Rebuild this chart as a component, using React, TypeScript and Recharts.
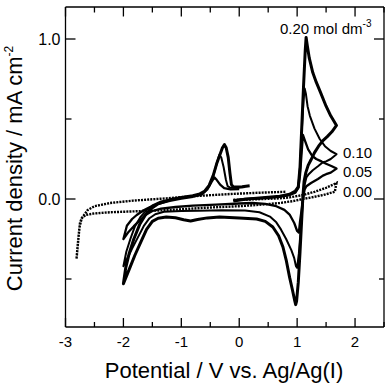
import React from 'react';
import { LineChart, Line, XAxis, YAxis } from 'recharts';

// Axis ticks
const xTicks = [-3, -2.5, -2, -1.5, -1, -0.5, 0, 0.5, 1, 1.5, 2, 2.5];
const xLabelTicks = [-3, -2, -1, 0, 1, 2];
const yTicks = [-0.5, 0, 0.5, 1.0];
const yLabelTicks = [0, 1.0];

// Concentration labels (mol dm^-3)
const concLabels = ['0.20', '0.10', '0.05', '0.00'];

// Cyclic voltammograms: [potential / V, current density / mA cm^-2], in scan order
const cv020: [number, number][] = [
  [-0.10, -0.012], [0.10, -0.002], [0.40, 0.008], [0.70, 0.018], [0.87, 0.03], [0.97, 0.05],
  [1.02, 0.075], [1.05, 0.2], [1.08, 0.45], [1.11, 0.7], [1.14, 0.93], [1.155, 1.01],
  [1.175, 0.96], [1.21, 0.88], [1.27, 0.79], [1.33, 0.73], [1.40, 0.67], [1.50, 0.58],
  [1.58, 0.52], [1.68, 0.46],
  [1.60, 0.42], [1.52, 0.39], [1.445, 0.365], [1.37, 0.33], [1.30, 0.29], [1.24, 0.245],
  [1.19, 0.21], [1.15, 0.165], [1.12, 0.11], [1.10, 0.02], [1.08, -0.12], [1.05, -0.33],
  [1.02, -0.52], [0.99, -0.64], [0.975, -0.66], [0.955, -0.63], [0.92, -0.57], [0.87, -0.49],
  [0.81, -0.38], [0.755, -0.3], [0.68, -0.23], [0.58, -0.175], [0.45, -0.14], [0.30, -0.125],
  [0.0, -0.118], [-0.34, -0.112], [-0.55, -0.118], [-0.72, -0.128], [-0.84, -0.137],
  [-0.96, -0.13], [-1.10, -0.117], [-1.26, -0.113], [-1.40, -0.12], [-1.50, -0.14],
  [-1.60, -0.19], [-1.70, -0.27], [-1.80, -0.35], [-1.90, -0.44], [-2.00, -0.53],
  [-1.96, -0.43], [-1.90, -0.34], [-1.82, -0.25], [-1.72, -0.16], [-1.62, -0.10],
  [-1.52, -0.06], [-1.40, -0.03], [-1.20, -0.005], [-1.00, 0.01], [-0.80, 0.02],
  [-0.68, 0.032], [-0.60, 0.048], [-0.52, 0.085], [-0.45, 0.146], [-0.39, 0.22],
  [-0.34, 0.27], [-0.29, 0.32], [-0.255, 0.34], [-0.225, 0.32], [-0.19, 0.26],
  [-0.16, 0.16], [-0.135, 0.09], [-0.10, 0.075], [0.05, 0.077], [0.18, 0.083],
];

const cv010: [number, number][] = [
  [-0.10, -0.01], [0.10, -0.001], [0.40, 0.007], [0.70, 0.016], [0.87, 0.028], [0.97, 0.045],
  [1.02, 0.08], [1.05, 0.2], [1.08, 0.42], [1.11, 0.62], [1.13, 0.69], [1.15, 0.66],
  [1.18, 0.58], [1.22, 0.52], [1.30, 0.44], [1.39, 0.375], [1.48, 0.33], [1.58, 0.30],
  [1.68, 0.28],
  [1.58, 0.25], [1.50, 0.235], [1.445, 0.23], [1.36, 0.205], [1.27, 0.18], [1.20, 0.155],
  [1.16, 0.135], [1.13, 0.09], [1.11, 0.03], [1.09, -0.06], [1.06, -0.2], [1.03, -0.34],
  [1.00, -0.43], [0.98, -0.42], [0.95, -0.37], [0.90, -0.32], [0.81, -0.25], [0.72, -0.19],
  [0.64, -0.146], [0.53, -0.11], [0.35, -0.083], [0.10, -0.072], [-0.30, -0.07],
  [-0.70, -0.073], [-1.00, -0.075], [-1.30, -0.08], [-1.45, -0.095], [-1.55, -0.12],
  [-1.65, -0.17], [-1.75, -0.24], [-1.85, -0.31], [-1.93, -0.37], [-2.00, -0.42],
  [-1.95, -0.33], [-1.88, -0.25], [-1.80, -0.17], [-1.70, -0.11], [-1.60, -0.07],
  [-1.50, -0.04], [-1.35, -0.015], [-1.15, 0.0], [-0.95, 0.012], [-0.75, 0.022],
  [-0.62, 0.04], [-0.52, 0.08], [-0.45, 0.14], [-0.39, 0.22], [-0.345, 0.275],
  [-0.31, 0.26], [-0.27, 0.2], [-0.23, 0.12], [-0.20, 0.08], [-0.15, 0.07], [0.0, 0.072],
  [0.10, 0.075],
];

const cv005: [number, number][] = [
  [-0.10, -0.008], [0.10, 0.0], [0.40, 0.006], [0.70, 0.014], [0.87, 0.025], [0.97, 0.04],
  [1.02, 0.07], [1.05, 0.15], [1.08, 0.30], [1.10, 0.40], [1.13, 0.37], [1.19, 0.31],
  [1.26, 0.27], [1.33, 0.25], [1.42, 0.235], [1.50, 0.22], [1.60, 0.205], [1.68, 0.19],
  [1.58, 0.165], [1.50, 0.155], [1.445, 0.146], [1.36, 0.125], [1.24, 0.10], [1.16, 0.08],
  [1.13, 0.06], [1.11, 0.02], [1.08, -0.06], [1.05, -0.14], [1.03, -0.21], [1.00, -0.20],
  [0.95, -0.15], [0.87, -0.097], [0.78, -0.068], [0.64, -0.045], [0.45, -0.03],
  [0.23, -0.025], [0.0, -0.028], [-0.40, -0.035], [-0.80, -0.042], [-1.10, -0.05],
  [-1.35, -0.06], [-1.50, -0.075], [-1.62, -0.1], [-1.72, -0.135], [-1.82, -0.17],
  [-1.92, -0.21], [-2.00, -0.25],
  [-1.94, -0.167], [-1.85, -0.125], [-1.77, -0.1], [-1.65, -0.07], [-1.54, -0.05],
  [-1.40, -0.03], [-1.20, -0.012], [-1.00, 0.002], [-0.80, 0.014], [-0.65, 0.028],
  [-0.55, 0.06], [-0.48, 0.105], [-0.43, 0.135], [-0.39, 0.12], [-0.33, 0.09],
  [-0.26, 0.068], [-0.15, 0.06], [0.0, 0.062],
];

const cv000: [number, number][] = [
  [-0.10, -0.005], [0.30, -0.002], [0.70, 0.004], [0.87, 0.01], [1.10, 0.025], [1.30, 0.045],
  [1.50, 0.07], [1.65, 0.094], [1.68, 0.1],
  [1.65, 0.045], [1.45, 0.025], [1.25, 0.01], [1.10, 0.0], [0.95, -0.012], [0.70, -0.025],
  [0.40, -0.035], [0.0, -0.045], [-0.60, -0.055], [-1.26, -0.07], [-1.66, -0.075],
  [-2.23, -0.083], [-2.50, -0.09], [-2.65, -0.1], [-2.72, -0.12], [-2.75, -0.15],
  [-2.77, -0.22], [-2.79, -0.3], [-2.81, -0.375],
  [-2.79, -0.29], [-2.76, -0.18], [-2.72, -0.12], [-2.62, -0.07], [-2.50, -0.045],
  [-2.23, -0.025], [-1.83, -0.01], [-1.26, 0.004], [-0.68, 0.02], [-0.11, 0.032],
  [0.40, 0.04], [0.80, 0.045],
];

const toPoints = (pairs: [number, number][]) => pairs.map(([v, i]) => ({ v, i }));

const FONT = '"Liberation Sans", Arial, Helvetica, sans-serif';
const INK = '#000';

// Inward-facing ticks on all four sides of the frame; labels only on major ticks
function BottomTick(props: any) {
  const { x, y, payload } = props;
  const major = xLabelTicks.includes(payload.value);
  return (
    <g>
      <line x1={x} y1={y} x2={x} y2={y - (major ? 9 : 5)} stroke={INK} strokeWidth={1.3} />
      {major && (
        <text x={x} y={y + 19.5} textAnchor="middle" fontSize={15} fontFamily={FONT} fill={INK}>
          {String(payload.value)}
        </text>
      )}
    </g>
  );
}

function TopTick(props: any) {
  const { x, y, payload } = props;
  const major = xLabelTicks.includes(payload.value);
  return <line x1={x} y1={y} x2={x} y2={y + (major ? 9.5 : 5.5)} stroke={INK} strokeWidth={1.3} />;
}

function LeftTick(props: any) {
  const { x, y, payload } = props;
  const major = yLabelTicks.includes(payload.value);
  return (
    <g>
      <line x1={x} y1={y} x2={x + (major ? 10 : 6)} y2={y} stroke={INK} strokeWidth={1.3} />
      {major && (
        <text x={x - 5} y={y + 5.8} textAnchor="end" fontSize={16} fontFamily={FONT} fill={INK}>
          {Number(payload.value).toFixed(1)}
        </text>
      )}
    </g>
  );
}

function RightTick(props: any) {
  const { x, y, payload } = props;
  const major = yLabelTicks.includes(payload.value);
  return <line x1={x} y1={y} x2={x - (major ? 10 : 5)} y2={y} stroke={INK} strokeWidth={1.3} />;
}

const axisLine = { stroke: INK, strokeWidth: 1.3 };

export default function App() {
  return (
    <div style={{ position: 'absolute', left: 0, top: 0, width: 388, height: 385, background: '#fff' }}>
      <LineChart width={388} height={385} margin={{ top: 6, right: 3, left: 0, bottom: 0 }}>
        <XAxis
          xAxisId={0}
          type="number"
          dataKey="v"
          domain={[-3, 2.5]}
          ticks={xTicks}
          interval={0}
          allowDataOverflow
          height={58}
          tickSize={0}
          tickMargin={0}
          tickLine={false}
          axisLine={axisLine}
          tick={<BottomTick />}
        />
        <XAxis
          xAxisId="top"
          orientation="top"
          type="number"
          dataKey="v"
          domain={[-3, 2.5]}
          ticks={xTicks}
          interval={0}
          allowDataOverflow
          height={1}
          tickSize={0}
          tickMargin={0}
          tickLine={false}
          axisLine={axisLine}
          tick={<TopTick />}
        />
        <YAxis
          yAxisId={0}
          type="number"
          dataKey="i"
          domain={[-0.8, 1.2]}
          ticks={yTicks}
          interval={0}
          allowDataOverflow
          width={65.5}
          tickSize={0}
          tickMargin={0}
          tickLine={false}
          axisLine={axisLine}
          tick={<LeftTick />}
        />
        <YAxis
          yAxisId="right"
          orientation="right"
          type="number"
          dataKey="i"
          domain={[-0.8, 1.2]}
          ticks={yTicks}
          interval={0}
          allowDataOverflow
          width={1}
          tickSize={0}
          tickMargin={0}
          tickLine={false}
          axisLine={axisLine}
          tick={<RightTick />}
        />
        <Line
          data={toPoints(cv000)}
          dataKey="i"
          type="linear"
          stroke={INK}
          strokeWidth={2.4}
          strokeDasharray="2 1.1"
          dot={false}
          isAnimationActive={false}
        />
        <Line
          data={toPoints(cv005)}
          dataKey="i"
          type="linear"
          stroke={INK}
          strokeWidth={2.3}
          strokeLinejoin="round"
          dot={false}
          isAnimationActive={false}
        />
        <Line
          data={toPoints(cv010)}
          dataKey="i"
          type="linear"
          stroke={INK}
          strokeWidth={2}
          strokeLinejoin="round"
          dot={false}
          isAnimationActive={false}
        />
        <Line
          data={toPoints(cv020)}
          dataKey="i"
          type="linear"
          stroke={INK}
          strokeWidth={3}
          strokeLinejoin="round"
          dot={false}
          isAnimationActive={false}
        />
      </LineChart>
      <svg
        width={388}
        height={385}
        style={{ position: 'absolute', left: 0, top: 0, pointerEvents: 'none' }}
        fontFamily={FONT}
        fill={INK}
      >
        <text x={280} y={34.3} fontSize={15}>
          {concLabels[0]} mol dm
          <tspan dy={-7} fontSize={10}>-3</tspan>
        </text>
        <text x={343} y={158.3} fontSize={15}>{concLabels[1]}</text>
        <text x={343} y={177.3} fontSize={15}>{concLabels[2]}</text>
        <text x={343} y={196.7} fontSize={15}>{concLabels[3]}</text>
        <text x={224} y={378} fontSize={22} textAnchor="middle">
          Potential / V vs. Ag/Ag(I)
        </text>
        <text transform="translate(22,168.5) rotate(-90)" fontSize={22} textAnchor="middle">
          Current density / mA cm
          <tspan dy={-9} fontSize={12}>-2</tspan>
        </text>
      </svg>
    </div>
  );
}
